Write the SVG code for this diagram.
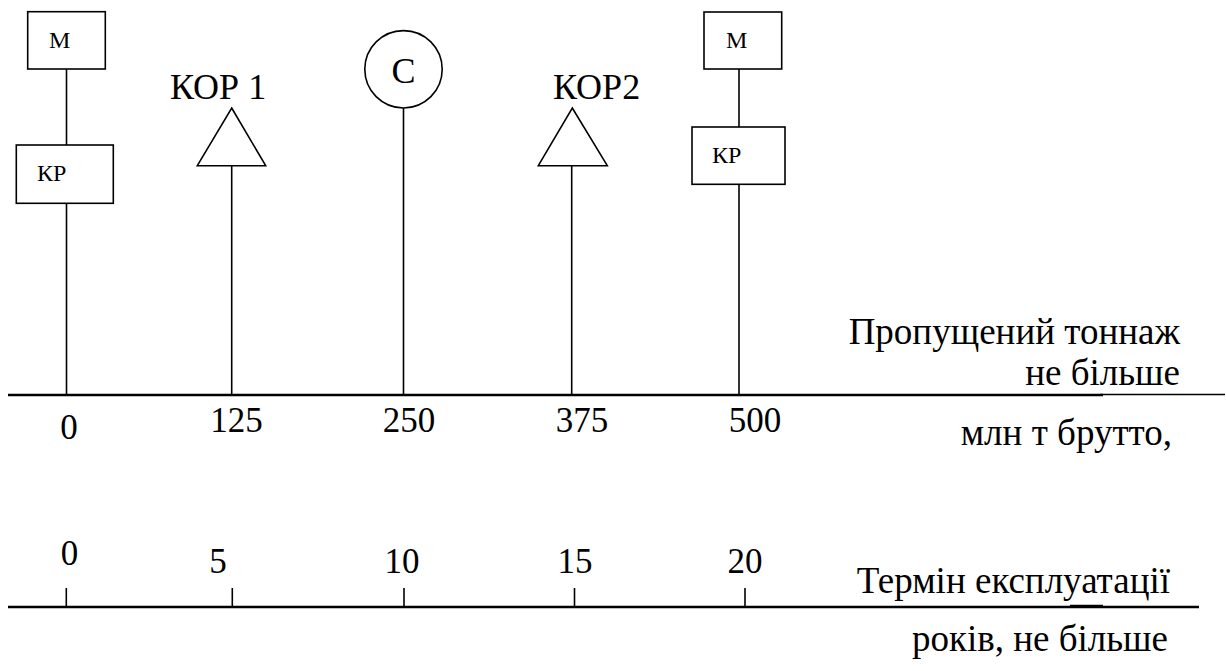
<svg xmlns="http://www.w3.org/2000/svg" width="1226" height="671" viewBox="0 0 1226 671">
<style>
text{font-family:'Liberation Serif',Tinos,'DejaVu Serif',serif;fill:#000}
.big{font-size:35px}
.lab{font-size:37px}
.kor{font-size:36px}
.sm{font-size:24px}
.shape{fill:#fff;stroke:#000;stroke-width:1.6}
.ln{stroke:#000;stroke-width:1.6;fill:none}
.axis{stroke:#000;stroke-width:2.6;fill:none}
.mid{text-anchor:middle}
.end{text-anchor:end}
</style>
<rect width="1226" height="671" fill="#fff"/>
<g id="connectors">
<line class="ln" x1="66.5" y1="69" x2="66.5" y2="145"/>
<line class="ln" x1="66.5" y1="203" x2="66.5" y2="395"/>
<line class="ln" x1="231.7" y1="165.7" x2="231.7" y2="395"/>
<line class="ln" x1="403.5" y1="108" x2="403.5" y2="395"/>
<line class="ln" x1="571.7" y1="165.7" x2="571.7" y2="395"/>
<line class="ln" x1="739" y1="69" x2="739" y2="127"/>
<line class="ln" x1="739" y1="184.3" x2="739" y2="395"/>
</g>
<g id="axis-tonnage">
<line class="axis" x1="8" y1="395" x2="1103" y2="395"/>
<line class="ln" x1="1100" y1="394.5" x2="1225" y2="394.5"/>
<text class="big mid" x="69" y="439">0</text>
<text class="big mid" x="236.5" y="432">125</text>
<text class="big mid" x="409" y="432">250</text>
<text class="big mid" x="582" y="432">375</text>
<text class="big mid" x="755" y="432">500</text>
<text class="lab end" x="1180" y="344">Пропущений тоннаж</text>
<text class="lab end" x="1180" y="385">не більше</text>
<text class="lab end" x="1172" y="445">млн т брутто,</text>
</g>
<g id="axis-years">
<line class="axis" x1="8" y1="607" x2="1199" y2="607"/>
<line class="ln" x1="1070" y1="605.5" x2="1103" y2="605.5"/>
<line class="ln" x1="66.3" y1="588" x2="66.3" y2="607"/>
<line class="ln" x1="232.3" y1="588" x2="232.3" y2="607"/>
<line class="ln" x1="404" y1="588" x2="404" y2="607"/>
<line class="ln" x1="574.5" y1="588" x2="574.5" y2="607"/>
<line class="ln" x1="745" y1="588" x2="745" y2="607"/>
<text class="big mid" x="69.5" y="565">0</text>
<text class="big mid" x="218" y="573">5</text>
<text class="big mid" x="402" y="573">10</text>
<text class="big mid" x="575" y="573">15</text>
<text class="big mid" x="745" y="573">20</text>
<text class="lab end" x="1170" y="593">Термін експлуатації</text>
<text class="lab end" x="1168" y="651">років, не більше</text>
</g>
<g id="node-m1">
<rect class="shape" x="27.7" y="11.7" width="77.6" height="57.3"/>
<text class="sm" x="49" y="47.7">М</text>
</g>
<g id="node-kr1">
<rect class="shape" x="16.3" y="145" width="97" height="58.3"/>
<text class="sm" x="37" y="181">КР</text>
</g>
<g id="node-kor1">
<polygon class="shape" points="231.7,108 265.7,165.7 197.3,165.7"/>
<text class="kor" x="170" y="99.3">КОР 1</text>
</g>
<g id="node-c">
<circle class="shape" cx="403.5" cy="69.3" r="38.7"/>
<text class="kor mid" x="403.5" y="83.3">С</text>
</g>
<g id="node-kor2">
<polygon class="shape" points="572.3,108 607.3,165.7 538.3,165.7"/>
<text class="kor" x="553" y="99.3">КОР2</text>
</g>
<g id="node-m2">
<rect class="shape" x="704" y="12" width="77.7" height="57"/>
<text class="sm" x="726" y="47.7">М</text>
</g>
<g id="node-kr2">
<rect class="shape" x="692" y="127" width="93" height="57.3"/>
<text class="sm" x="712" y="163.3">КР</text>
</g>
</svg>
